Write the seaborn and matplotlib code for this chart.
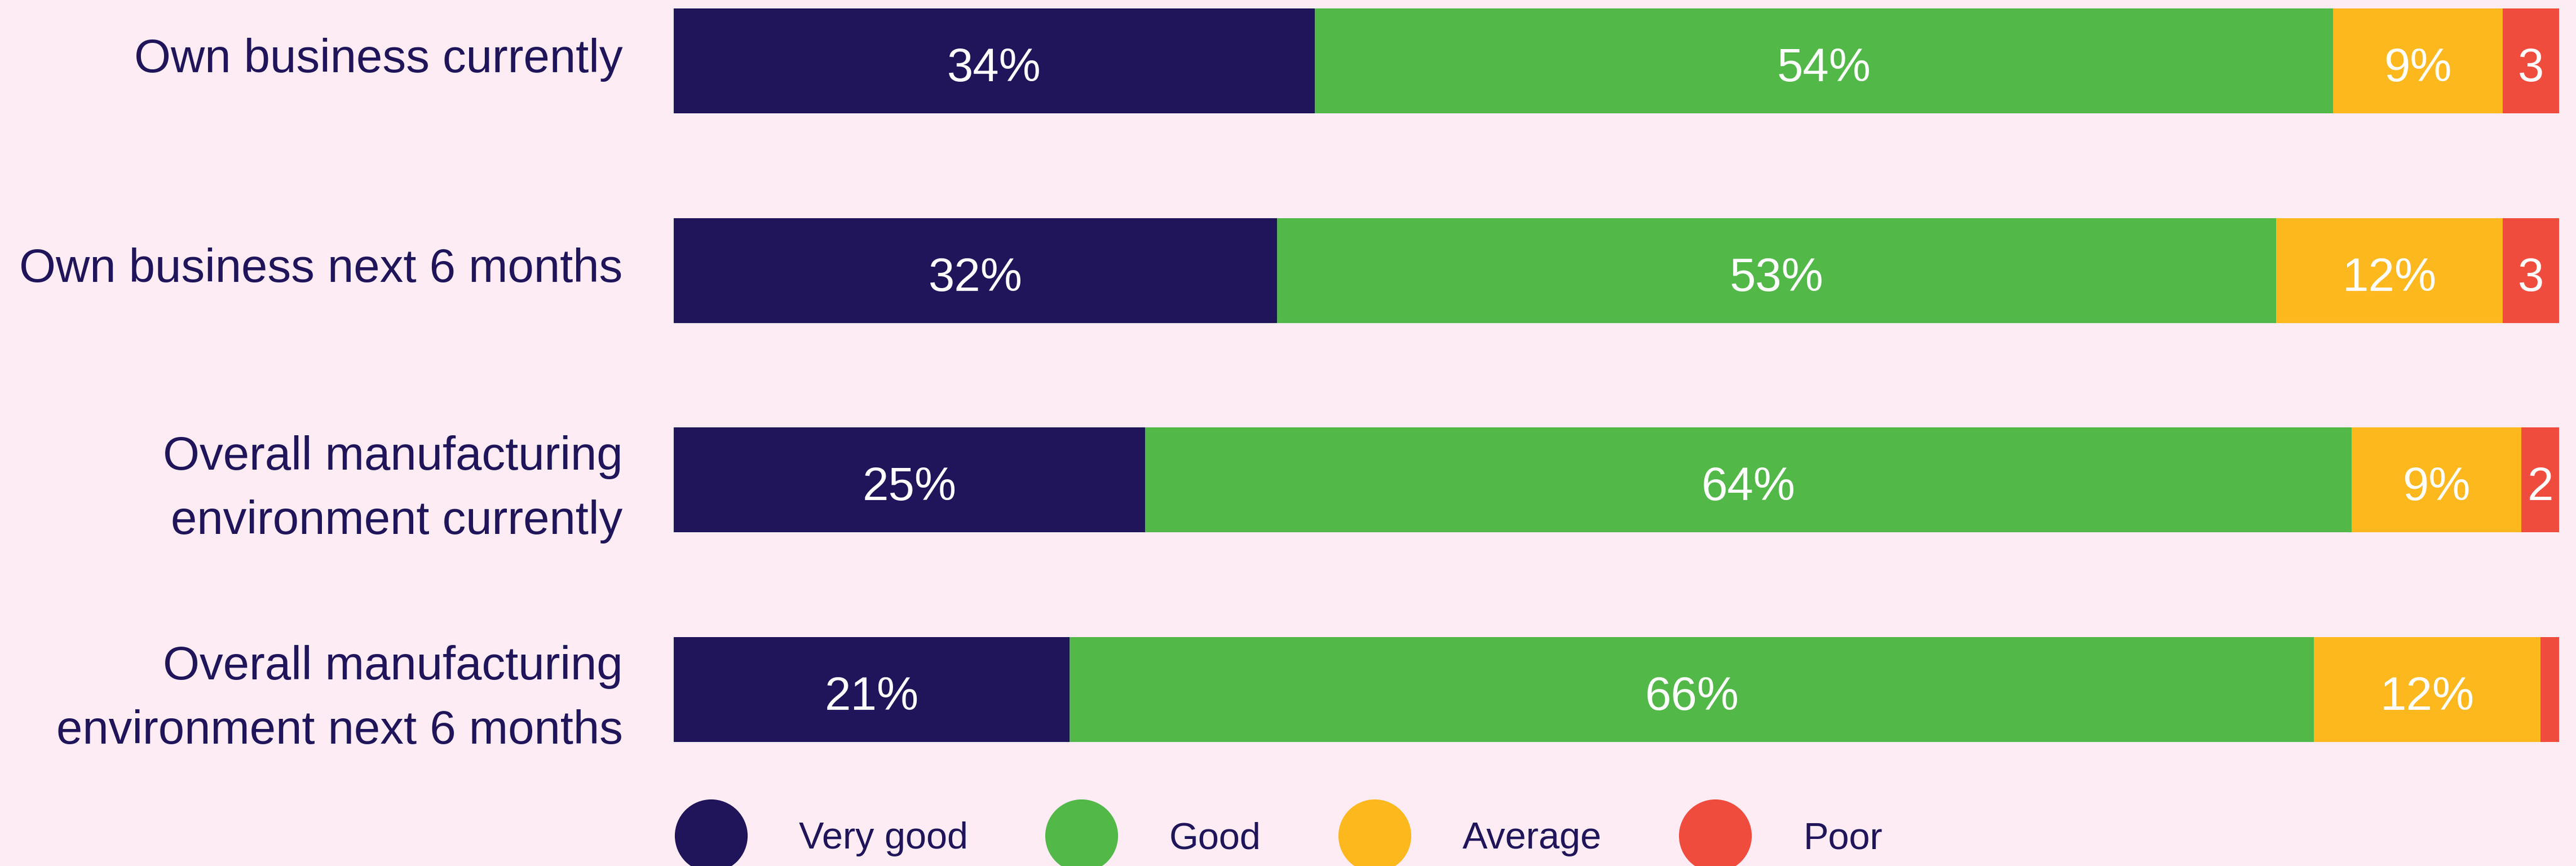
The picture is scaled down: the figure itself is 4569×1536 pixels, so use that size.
import numpy as np
import pandas as pd
import matplotlib
matplotlib.use("Agg")
import matplotlib.pyplot as plt
import matplotlib.transforms as mtransforms
from matplotlib.lines import Line2D
import seaborn as sns

# Chart data
categories = [
    "Own business currently",
    "Own business next 6 months",
    "Overall manufacturing\nenvironment currently",
    "Overall manufacturing\nenvironment next 6 months",
]
ratings = ["Very good", "Good", "Average", "Poor"]
very_good = [34, 32, 25, 21]
good = [54, 53, 64, 66]
average = [9, 12, 9, 12]
poor = [3, 3, 2, 1]
poor_labels = ["3", "3", "2", ""]

colors = ["#20145a", "#52b848", "#fdb81e", "#f04c3e"]
bg = "#fdecf4"
navy = "#20145a"

sns.set_theme(style="white")
plt.rcParams["font.family"] = ["Liberation Sans", "DejaVu Sans"]

data = pd.DataFrame({
    "category": categories,
    "Very good": very_good,
    "Good": good,
    "Average": average,
    "Poor": poor,
})
cum = data[ratings].cumsum(axis=1)

fig = plt.figure(figsize=(45.69, 15.36), dpi=100, facecolor=bg)
ax = fig.add_axes([1195 / 4569, 1 - 1316 / 1536, (4539 - 1195) / 4569, (1316 - 15) / 1536])
ax.set_facecolor(bg)

# stacked bars: draw cumulative totals from the largest down
for r, c in zip(reversed(ratings), reversed(colors)):
    sns.barplot(x=cum[r], y=data["category"], orient="h", color=c,
                width=0.5, saturation=1, ax=ax, linewidth=0)

# segment labels, nudged down a little so the digits sit optically centred
nudge = mtransforms.ScaledTranslation(0, -0.14, fig.dpi_scale_trans)
for i in range(len(categories)):
    left = 0
    for r in ratings:
        v = data.loc[i, r]
        if r == "Poor":
            txt = poor_labels[i]
        else:
            txt = f"{v}%"
        if txt:
            ax.text(left + v / 2, i, txt, ha="center", va="center",
                    color="white", fontsize=60,
                    transform=ax.transData + nudge)
        left += v

ax.set_xlim(0, 100)
ax.set_ylim(3.25, -0.25)
ax.set_xlabel("")
ax.set_ylabel("")
ax.set_xticks([])
for s in ax.spines.values():
    s.set_visible(False)
ax.tick_params(axis="y", length=0, pad=65, labelsize=60, labelcolor=navy)
lift = mtransforms.ScaledTranslation(0, 0.10, fig.dpi_scale_trans)
for lab in ax.get_yticklabels():
    lab.set_linespacing(1.6)
    lab.set_horizontalalignment("right")
    lab.set_transform(lab.get_transform() + lift)

# legend with round markers
fs = 48
handles = [Line2D([0], [0], marker="o", linestyle="", markersize=93,
                  markerfacecolor=c, markeredgewidth=0) for c in colors]
fig.legend(handles, ratings, loc="center left",
           bbox_to_anchor=(1196 / 4569, 1 - 1488 / 1536), ncol=4,
           frameon=False, fontsize=fs, labelcolor=navy,
           handlelength=130 / (fs * 100 / 72), handletextpad=91 / (fs * 100 / 72),
           columnspacing=136 / (fs * 100 / 72), borderpad=0, borderaxespad=0)

fig.savefig("out.png", dpi=100, facecolor=bg)
